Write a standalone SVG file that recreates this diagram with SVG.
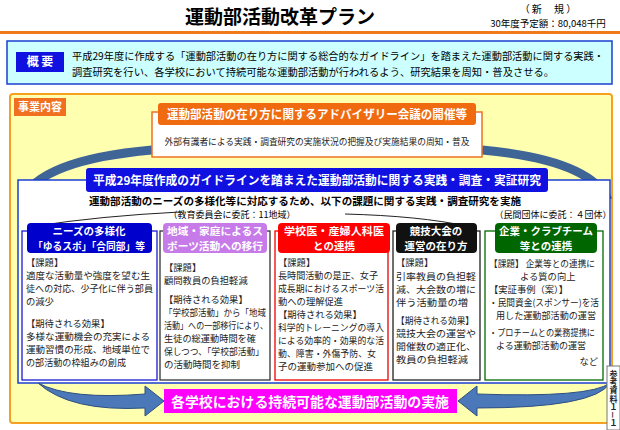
<svg xmlns="http://www.w3.org/2000/svg" width="620" height="430" viewBox="0 0 620 430">
<style>
text{font-family:"Noto Sans CJK JP","Noto Sans CJK SC",sans-serif;}
.b{font-size:9.3px;fill:#222;}
.h{font-size:10.5px;font-weight:bold;fill:#fff;text-anchor:middle;}
</style>
<rect width="620" height="430" fill="#fff"/>
<text x="280" y="24" font-size="19" font-weight="bold" text-anchor="middle">運動部活動改革プラン</text>
<text x="548" y="13" font-size="10" text-anchor="middle">（ 新　 規 ）</text>
<text x="548" y="27" font-size="9.5" text-anchor="middle">30年度予定額：80,048千円</text>
<rect x="0" y="31" width="620" height="3" fill="#f07a1a"/>
<g id="overview">
<rect x="7" y="41" width="605" height="43" fill="#ccffff" stroke="#1a3fd0" stroke-width="1.5"/>
<rect x="16" y="52" width="48" height="20" fill="#1010e0"/>
<text x="40" y="66" font-size="12" font-weight="bold" fill="#fff" text-anchor="middle">概 要</text>
<text x="72" y="60" font-size="10" textLength="532" lengthAdjust="spacingAndGlyphs">平成29年度に作成する「運動部活動の在り方に関する総合的なガイドライン」を踏まえた運動部活動に関する実践・</text>
<text x="72" y="76" font-size="10" textLength="482" lengthAdjust="spacingAndGlyphs">調査研究を行い、各学校において持続可能な運動部活動が行われるよう、研究結果を周知・普及させる。</text>
</g>
<rect x="10" y="94" width="602" height="329" fill="#ffffb0" stroke="#f5a020" stroke-width="2" rx="3"/>
<rect x="14" y="98" width="52" height="18" fill="#f07020"/>
<text x="40" y="111" font-size="11" font-weight="bold" fill="#fff" text-anchor="middle">事業内容</text>
<g id="connectors" fill="none" stroke="#3f6597">
<path d="M22,200 Q40,160 152,150" stroke-width="9"/>
<path d="M608,200 Q590,160 482,150" stroke-width="9"/>
</g>
<g id="advisory">
<rect x="152" y="112" width="330" height="45" fill="#fff" stroke="#f07020" stroke-width="1.5"/>
<rect x="158" y="103" width="318" height="22" rx="3" fill="#f06a10"/>
<text x="317" y="119" font-size="12" font-weight="bold" fill="#fff" text-anchor="middle" textLength="300" lengthAdjust="spacingAndGlyphs">運動部活動の在り方に関するアドバイザリー会議の開催等</text>
<text x="317" y="145" font-size="9" text-anchor="middle" fill="#222" textLength="305" lengthAdjust="spacingAndGlyphs">外部有識者による実践・調査研究の実施状況の把握及び実施結果の周知・普及</text>
</g>
<g id="research">
<rect x="18" y="180" width="592" height="203" fill="#fff" stroke="#1a3fd0" stroke-width="1.5"/>
<rect x="86" y="168" width="462" height="24" rx="3" fill="#1010e0"/>
<text x="317" y="185" font-size="12" font-weight="bold" fill="#fff" text-anchor="middle" textLength="448" lengthAdjust="spacingAndGlyphs">平成29年度作成のガイドラインを踏まえた運動部活動に関する実践・調査・実証研究</text>
<text x="305" y="205" font-size="10.5" font-weight="bold" text-anchor="middle" textLength="432" lengthAdjust="spacingAndGlyphs">運動部活動のニーズの多様化等に対応するため、以下の課題に関する実践・調査研究を実施</text>
<text x="232" y="218" font-size="9" text-anchor="middle">（教育委員会に委託：11地域）</text>
<text x="553" y="218" font-size="9" text-anchor="middle">（民間団体に委託：４団体）</text>
<path d="M36,226 Q100,216 180,212 M345,214 Q420,216 466,226" fill="none" stroke="#222" stroke-width="1"/>
</g>
<g id="col1">
<rect x="22" y="231" width="135" height="149" fill="#fff" stroke="#1a1ad0" stroke-width="1.3"/>
<rect x="27" y="223" width="125" height="30" rx="4" fill="#0000cc"/>
<text class="h" x="89" y="235">ニーズの多様化</text><text class="h" x="89" y="249.5" textLength="112" lengthAdjust="spacingAndGlyphs">「ゆるスポ」「合同部」等</text>
<text class="b" x="26" y="266">【課題】</text><text class="b" x="26" y="279" textLength="124" lengthAdjust="spacingAndGlyphs">適度な活動量や強度を望む生</text><text class="b" x="26" y="292" textLength="127" lengthAdjust="spacingAndGlyphs">徒への対応、少子化に伴う部員</text><text class="b" x="26" y="305">の減少</text>
<text class="b" x="26" y="327">【期待される効果】</text><text class="b" x="26" y="340" textLength="124" lengthAdjust="spacingAndGlyphs">多様な運動機会の充実による</text><text class="b" x="26" y="353" textLength="124" lengthAdjust="spacingAndGlyphs">運動習慣の形成、地域単位で</text><text class="b" x="26" y="366" textLength="100" lengthAdjust="spacingAndGlyphs">の部活動の枠組みの創成</text>
</g>
<g id="col2">
<rect x="160" y="231" width="110" height="149" fill="#fff" stroke="#333" stroke-width="1.3"/>
<rect x="163" y="223" width="104" height="30" rx="4" fill="#c77be8"/>
<text class="h" x="215" y="235" textLength="96" lengthAdjust="spacingAndGlyphs">地域・家庭によるス</text><text class="h" x="215" y="249.5" textLength="96" lengthAdjust="spacingAndGlyphs">ポーツ活動への移行</text>
<text class="b" x="164" y="271">【課題】</text><text class="b" x="164" y="284">顧問教員の負担軽減</text>
<text class="b" x="164" y="303">【期待される効果】</text><text class="b" x="164" y="316" textLength="102" lengthAdjust="spacingAndGlyphs">「学校部活動」から「地域</text><text class="b" x="164" y="329" textLength="104" lengthAdjust="spacingAndGlyphs">活動」への一部移行により、</text><text class="b" x="164" y="342" textLength="92" lengthAdjust="spacingAndGlyphs">生徒の総運動時間を確</text><text class="b" x="164" y="355" textLength="100" lengthAdjust="spacingAndGlyphs">保しつつ、「学校部活動」</text><text class="b" x="164" y="368" textLength="76" lengthAdjust="spacingAndGlyphs">の活動時間を抑制</text>
</g>
<g id="col3">
<rect x="275" y="231" width="113" height="149" fill="#fff" stroke="#e00" stroke-width="1.3"/>
<rect x="278" y="223" width="112" height="30" rx="4" fill="#ff0000"/>
<text class="h" x="334" y="235" textLength="100" lengthAdjust="spacingAndGlyphs">学校医・産婦人科医</text><text class="h" x="334" y="249.5">との連携</text>
<text class="b" x="278" y="266">【課題】</text><text class="b" x="278" y="279" textLength="100" lengthAdjust="spacingAndGlyphs">長時間活動の是正、女子</text><text class="b" x="278" y="292" textLength="106" lengthAdjust="spacingAndGlyphs">成長期におけるスポーツ活</text><text class="b" x="278" y="305">動への理解促進</text>
<text class="b" x="278" y="318">【期待される効果】</text><text class="b" x="278" y="331" textLength="106" lengthAdjust="spacingAndGlyphs">科学的トレーニングの導入</text><text class="b" x="278" y="344" textLength="106" lengthAdjust="spacingAndGlyphs">による効率的・効果的な活</text><text class="b" x="278" y="357" textLength="98" lengthAdjust="spacingAndGlyphs">動、障害・外傷予防、女</text><text class="b" x="278" y="370" textLength="95" lengthAdjust="spacingAndGlyphs">子の運動参加への促進</text>
</g>
<g id="col4">
<rect x="393" y="231" width="87" height="149" fill="#fff" stroke="#222" stroke-width="1.3"/>
<rect x="396" y="223" width="81" height="30" rx="4" fill="#111"/>
<text class="h" x="436" y="235">競技大会の</text><text class="h" x="436" y="249.5">運営の在り方</text>
<text class="b" x="396" y="266">【課題】</text><text class="b" x="396" y="280" textLength="80" lengthAdjust="spacingAndGlyphs">引率教員の負担軽</text><text class="b" x="396" y="293" textLength="80" lengthAdjust="spacingAndGlyphs">減、大会数の増に</text><text class="b" x="396" y="306" textLength="72" lengthAdjust="spacingAndGlyphs">伴う活動量の増</text>
<text class="b" x="396" y="324" textLength="78" lengthAdjust="spacingAndGlyphs">【期待される効果】</text><text class="b" x="396" y="337" textLength="80" lengthAdjust="spacingAndGlyphs">競技大会の運営や</text><text class="b" x="396" y="350" textLength="80" lengthAdjust="spacingAndGlyphs">開催数の適正化、</text><text class="b" x="396" y="363" textLength="72" lengthAdjust="spacingAndGlyphs">教員の負担軽減</text>
</g>
<g id="col5">
<rect x="485" y="231" width="118" height="149" fill="#fff" stroke="#006a00" stroke-width="1.3"/>
<rect x="495" y="223" width="102" height="30" rx="4" fill="#006600"/>
<text class="h" x="546" y="235" textLength="94" lengthAdjust="spacingAndGlyphs">企業・クラブチーム</text><text class="h" x="546" y="249.5">等との連携</text>
<text class="b" x="489" y="267" textLength="106" lengthAdjust="spacingAndGlyphs">【課題】 企業等との連携に</text><text class="b" x="520" y="280">よる質の向上</text><text class="b" x="489" y="293">【実証事例（案）】</text><text class="b" x="489" y="306" textLength="110" lengthAdjust="spacingAndGlyphs">・民間資金(スポンサー)を活</text><text class="b" x="496" y="319" textLength="100" lengthAdjust="spacingAndGlyphs">用した運動部活動の運営</text>
<text class="b" x="489" y="336" textLength="106" lengthAdjust="spacingAndGlyphs">・プロチームとの業務提携に</text><text class="b" x="496" y="349" textLength="90" lengthAdjust="spacingAndGlyphs">よる運動部活動の運営</text><text class="b" x="598" y="365" text-anchor="end">など</text>
</g>
<g id="result">
<path d="M38,383 Q70,400 145,394 L145,386 L164,401 L145,416 L145,408 Q70,412 38,383 Z" fill="#4a78b8" stroke="#2e4f80"/>
<path d="M610,383 Q590,398 477,394 L477,386 L458,401 L477,416 L477,408 Q595,408 610,383 Z" fill="#4a78b8" stroke="#2e4f80"/>
<rect x="164" y="389" width="293" height="24" fill="#ff00ff"/>
<text x="310" y="407" font-size="14" font-weight="bold" fill="#fff" text-anchor="middle" textLength="278" lengthAdjust="spacingAndGlyphs">各学校における持続可能な運動部活動の実施</text>
</g>
<rect x="607" y="366" width="13" height="64" fill="#fff" stroke="#777"/>
<text x="613.5" y="370" font-size="8" font-weight="bold" writing-mode="vertical-rl" fill="#222" textLength="57" lengthAdjust="spacingAndGlyphs">参考資料１－１</text>
</svg>
